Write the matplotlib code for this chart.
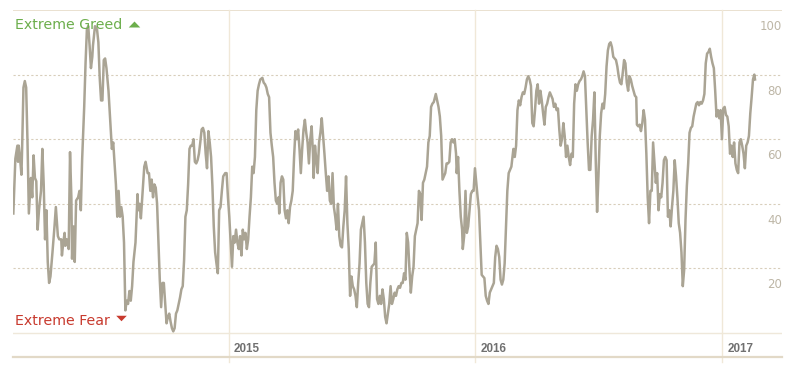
import numpy as np
import pandas as pd
import matplotlib
matplotlib.use('Agg')
import matplotlib.pyplot as plt
import matplotlib.transforms as mtransforms

# ------------------------------------------------------------
# Fear & Greed index (days since START)
# ------------------------------------------------------------
START = pd.Timestamp('2014-02-16')

days_2014a = [0, 3, 6, 7, 8, 10, 12, 13, 15, 17,
              19, 21, 23, 26, 28, 30, 32, 34, 36, 38,
              41, 43, 45, 47, 49, 51, 53, 55, 58, 61,
              63, 66, 68, 71, 72, 74, 76, 77, 79, 82,
              84, 86, 87, 89, 91, 93, 96, 98, 100, 102,
              105, 107, 109, 111, 113, 115, 117, 118, 121, 124,
              126, 128, 130, 132, 134, 136, 138, 141, 143, 146,
              148, 150, 152, 154, 156, 158, 160, 162, 164, 166,
              168, 170, 172, 174, 176, 178, 181]
index_2014a = [37, 54, 58, 53, 58, 54, 49, 57, 76, 78,
               76, 59, 37, 48, 42, 55, 48, 47, 32, 38,
               44, 57, 46, 29, 38, 22, 15.5, 17.5, 25, 33,
               39, 30, 29, 29, 24, 28, 31, 27, 29, 26,
               56, 42, 23, 33, 22, 41, 42, 44, 38, 54,
               70, 83.5, 94, 95, 89, 82, 85.5, 89, 95, 94,
               90, 79, 72, 72, 84.5, 85, 82, 75, 68, 57,
               59, 52.5, 46, 36, 44, 36, 39, 36, 28, 7,
               10, 9, 13, 10, 14.5, 22, 28]

days_2014b = [184, 185, 187, 189, 191, 194, 196, 199, 201, 203,
              205, 207, 209, 211, 213, 215, 217, 219, 221, 223,
              225, 227, 229, 231, 233, 235, 237, 239, 241, 243,
              245, 247, 249, 251, 253, 255, 257, 259, 261, 263,
              265, 267, 269, 271, 273, 275, 277, 279, 281, 283,
              285, 287, 289, 291, 293, 295, 297, 299, 301, 303,
              305, 307, 309, 311, 314, 316, 318, 320, 322, 324,
              326, 328, 330, 332, 334, 336, 338, 340, 342, 344,
              346, 348, 350, 352, 354, 356, 358, 360, 362, 364,
              366]
index_2014b = [43, 38, 40, 35.5, 42, 51.5, 53, 49.5, 49.5, 44,
               47.5, 42, 46, 45, 40, 28, 16.5, 8, 15.5, 15.5,
               9, 3, 5, 6, 3.5, 1.5, 0.5, 1.5, 6, 7,
               9, 11, 13.5, 14.5, 22.5, 36, 38, 46, 57, 58,
               58, 60, 53, 52.5, 53.5, 55.5, 59, 63, 63.5, 62,
               55.5, 51, 62.5, 59, 54.5, 45.5, 33, 25, 21.5, 18.5,
               38, 39, 44, 48.5, 49.5, 49.5, 42, 36, 28, 20.5,
               30, 28, 32, 28, 26, 30, 24, 32, 29, 31,
               26, 29, 36, 42, 51.5, 49.5, 54.5, 69, 75, 77,
               78.5]

days_2015a = [369, 371, 373, 375, 377, 379, 381, 383, 385, 387,
              389, 391, 393, 394, 396, 398, 400, 402, 404, 406,
              408, 410, 412, 414, 416, 418, 420, 422, 424, 426,
              428, 430, 432, 434, 436, 438, 440, 442, 444, 445,
              447, 449, 451, 453, 455, 457, 459, 461, 463, 465,
              467, 469, 471, 473, 475, 477, 479, 481, 483, 485,
              487, 489, 491, 493, 495, 497, 499, 501, 503, 505,
              507, 509, 511, 513, 515, 517, 519, 521, 523, 525,
              527, 529, 531, 533, 535, 537, 539, 541, 543, 545,
              547, 549, 551, 553]
index_2015a = [79, 77.5, 77, 76, 74, 73, 62, 58, 54.5, 46.5,
               41, 40, 42, 37, 46.5, 48.5, 47.5, 38, 35.5, 38,
               34, 39, 41, 44, 54.5, 62.5, 60, 63, 57, 49.5,
               57, 63, 66, 62, 59, 52.5, 60, 64, 55.5, 48,
               58, 53.5, 49.5, 59, 62, 66.5, 61, 55.5, 49.5, 44,
               48.5, 41, 40, 49.5, 39, 36, 32, 40, 30, 27,
               26.5, 33, 38, 48.5, 34, 26, 11.5, 17.5, 14.5, 13.5,
               11.5, 8, 15.5, 21.5, 32, 34, 36, 28, 15.5, 9,
               8, 15.5, 20.5, 21, 21.5, 28, 10.5, 9, 11.5, 9,
               13.5, 10.5, 5, 3]

days_2015b = [557, 559, 561, 563, 565, 567, 569, 571, 573, 575,
              577, 579, 581, 583, 585, 587, 589, 591, 593, 595,
              597, 599, 601, 603, 605, 607, 609, 611, 613, 615,
              617, 619, 621, 623, 626, 628, 630, 632, 634, 636,
              638, 640, 642, 644, 646, 648, 650, 652, 654, 656,
              657, 659, 661, 663, 665, 666, 668, 670, 672, 674,
              676, 678, 680, 682, 684, 686, 688, 690, 692, 694,
              696, 698, 700, 702, 704, 706, 708, 710, 712, 714,
              716, 718, 720, 722, 724, 726, 728, 730, 732, 734,
              736, 738]
index_2015b = [9, 14.5, 9, 10.5, 12.5, 11.5, 13.5, 14.5, 14, 15.5,
               15.5, 18.5, 16.5, 31, 28, 19.5, 12.5, 17.5, 20.5, 30,
               32, 34, 44, 43, 35, 46.5, 47.5, 49.5, 51.5, 59,
               61, 70, 71, 71.5, 74, 72, 70, 67, 61, 47.5,
               48.5, 49.5, 52.5, 52.5, 53, 59, 60, 59, 60, 55.5,
               49.5, 54.5, 44, 36, 32, 26, 30, 44, 31, 33,
               38, 43, 44, 44, 51, 46.5, 42, 38, 28, 18,
               17.5, 17, 11.5, 10, 9, 12.5, 13.5, 14.5, 15.5, 23.5,
               27, 26, 23.5, 16.5, 15, 16.5, 21.5, 33, 44, 49.5,
               50.5, 51.5]

days_2016a = [741, 743, 745, 747, 749, 751, 753, 755, 757, 759,
              761, 763, 765, 767, 769, 771, 773, 775, 777, 779,
              781, 783, 785, 787, 789, 791, 793, 795, 797, 799,
              801, 803, 805, 807, 809, 811, 813, 815, 817, 819,
              821, 823, 825, 827, 829, 831, 833, 835, 837, 839,
              841, 843, 845, 847, 849, 851, 853, 855, 857, 859,
              861, 863, 865, 867, 869, 871, 873, 875, 877, 879,
              881, 883, 885, 887, 889, 891, 893, 895, 897, 899,
              901, 903, 905, 907, 909, 911, 913, 915, 917, 919,
              921, 923]
index_2016a = [57, 54.5, 58, 69, 72, 70.5, 73, 74.5, 74, 76,
               78.5, 79.5, 78.5, 76.5, 65, 64, 69, 75, 77, 71,
               75, 72, 68, 64.5, 70, 71, 73, 74.5, 73.5, 72.5,
               70, 71, 69, 69.5, 63, 58, 60, 65, 61, 54.5,
               58, 54.5, 52, 55.5, 54.5, 71, 77, 75, 77, 78,
               78.5, 79.5, 81, 79.5, 69, 59, 50.5, 50.5, 61, 66,
               74.5, 53.5, 37.5, 48.5, 61, 68, 71, 69.5, 74, 82.5,
               87.5, 89.5, 90, 88.5, 85.5, 85, 84.5, 82.5, 79.5, 77.5,
               77, 80.5, 84.5, 83.5, 77.5, 75, 79.5, 78.5, 76.5, 75,
               73.5, 73]

days_2016b = [924, 926, 928, 930, 932, 934, 936, 938, 940, 942,
              944, 946, 948, 950, 952, 954, 956, 958, 960, 962,
              964, 966, 968, 970, 972, 974, 976, 978, 980, 982,
              984, 986, 988, 990, 992, 994, 996, 998, 1000, 1002,
              1004, 1006, 1008, 1010, 1012, 1014, 1016, 1018, 1020, 1022,
              1024, 1026, 1028, 1030, 1032, 1034, 1036, 1038, 1040, 1042,
              1044, 1046, 1048, 1050, 1052, 1054, 1056, 1058, 1060, 1062,
              1064, 1066, 1068, 1070, 1072, 1074, 1076, 1078, 1080, 1082,
              1084, 1086, 1088, 1090, 1092, 1094, 1096, 1098, 1099]
index_2016b = [64.5, 64, 64.5, 62.5, 65, 69, 66, 55.5, 42, 34,
               44, 44, 59, 52.5, 46.5, 49.5, 38, 43, 42, 46.5,
               53.5, 54.5, 53.5, 36, 38, 33, 39, 44, 53.5, 48.5,
               42, 34, 31, 25, 14.5, 19.5, 35, 45.5, 52.5, 62,
               63.5, 64, 67, 69, 71, 71.5, 70.5, 71.5, 71, 72,
               74, 83.5, 86.5, 87, 88, 85.5, 83.5, 82, 75, 67,
               69, 66.5, 69, 60, 69.5, 70, 67.5, 67, 64, 55.5,
               58, 54.5, 59, 52.5, 50.5, 49.5, 59, 60, 58, 55.5,
               51, 58, 59, 61, 68, 73, 78.5, 80, 78.5]

year_ticks = ['2015-01-01', '2016-01-01', '2017-01-01']
year_labels = ['2015', '2016', '2017']
grid_levels = [20, 40, 60, 80]
label_levels = [20, 40, 60, 80, 100]

days = days_2014a + days_2014b + days_2015a + days_2015b + days_2016a + days_2016b
fg_index = index_2014a + index_2014b + index_2015a + index_2015b + index_2016a + index_2016b
df = pd.DataFrame({'date': START + pd.to_timedelta(days, unit='D'), 'index': fg_index})

# ------------------------------------------------------------
# colours
# ------------------------------------------------------------
LINE = '#aaa494'
GRID = '#d8cebb'
FRAME = '#e6dcc8'
VLINE = '#f0e8d8'
TICK_TXT = '#bdb6a6'
YEAR_TXT = '#707070'
GREEN = '#6cae4c'
RED = '#c83a2e'

fig = plt.figure(figsize=(8.02, 3.70), dpi=100)
ax = fig.add_axes([13 / 802, 13 / 370, 769 / 802, 347 / 370])

ax.set_ylim(-7.43, 100)
ax.set_xlim(START - pd.Timedelta(days=0.5), pd.Timestamp('2017-03-31'))

for side in ['top', 'left', 'right']:
    ax.spines[side].set_visible(False)
ax.spines['bottom'].set_color('#e2d9c7')
ax.spines['bottom'].set_linewidth(1.6)
ax.set_xticks([])
ax.set_yticks([])

ax.axhline(100, color=FRAME, lw=1.2, zorder=1)
ax.axhline(0, color='#efe8da', lw=1.0, zorder=1)
for v in grid_levels:
    ax.axhline(v, color=GRID, lw=0.8, ls=(0, (2, 2)), zorder=1)

for d, lab in zip(year_ticks, year_labels):
    ax.axvline(pd.Timestamp(d), ymin=-0.015, ymax=1, color=VLINE, lw=1.0,
               clip_on=False, zorder=1)
    ax.annotate(lab, xy=(pd.Timestamp(d), -6), xytext=(3.8, 0),
                textcoords='offset points', ha='left', va='baseline',
                fontsize=8.4, fontweight='bold', family='Liberation Sans',
                color=YEAR_TXT)

ax.plot(df['date'], df['index'], color=LINE, lw=1.8,
        solid_joinstyle='round', zorder=3)

# right hand value labels, sitting under their gridline
blend = mtransforms.blended_transform_factory(ax.transAxes, ax.transData)
for v in label_levels:
    ax.text(1.0, v - 6.2, str(v), transform=blend, ha='right', va='baseline',
            fontsize=8.5, color=TICK_TXT)

# Extreme greed / fear tags
ax.text(0.003, 0.9444, 'Extreme Greed', transform=ax.transAxes,
        ha='left', va='baseline', fontsize=10.2, color=GREEN)
ax.plot([0.1567], [0.9605], transform=ax.transAxes, clip_on=False,
        marker=[(-1, -0.52), (1, -0.52), (0, 0.52)], markersize=8.3,
        color=GREEN, markeredgewidth=0, ls='none')
ax.text(0.003, 0.0922, 'Extreme Fear', transform=ax.transAxes,
        ha='left', va='baseline', fontsize=10.2, color=RED)
ax.plot([0.1398], [0.111], transform=ax.transAxes, clip_on=False,
        marker=[(-1, 0.52), (1, 0.52), (0, -0.52)], markersize=7.6,
        color=RED, markeredgewidth=0, ls='none')

fig.savefig('out.png', dpi=100)
